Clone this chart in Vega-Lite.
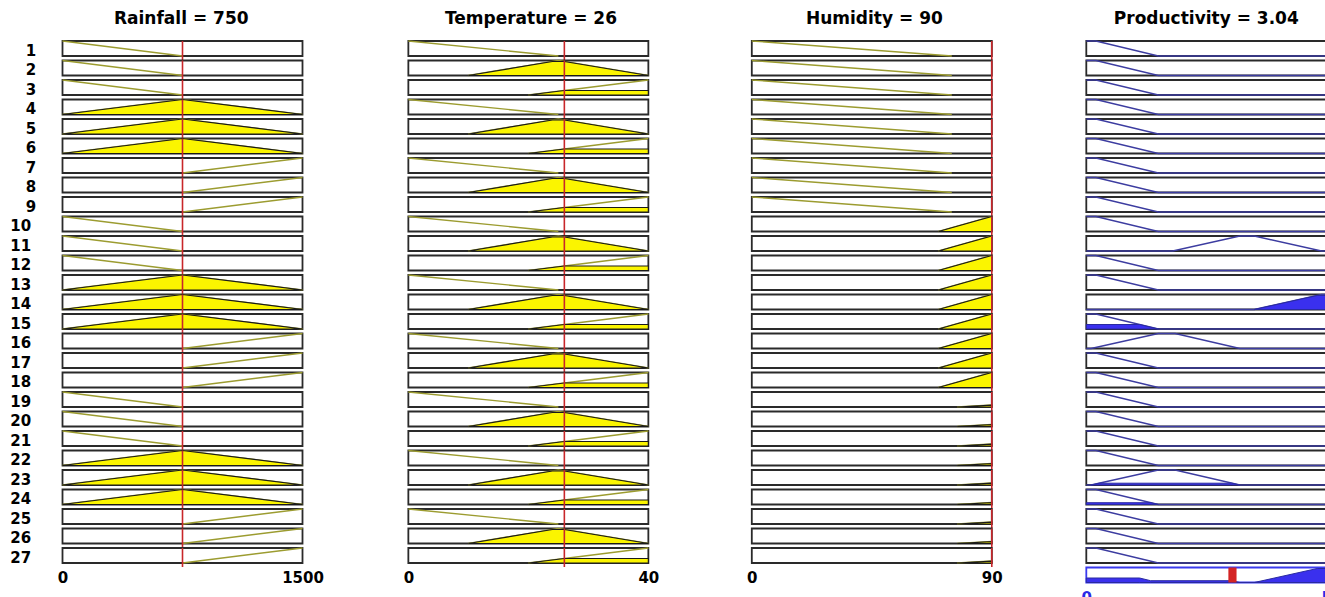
{
 "$schema": "https://vega.github.io/schema/vega-lite/v6.json",
 "background": "white",
 "padding": {"left": 9.5, "top": 10, "right": 0, "bottom": 0},
 "config": {
  "view": {"stroke": null},
  "font": "DejaVu Sans",
  "axis": {"domain": false, "ticks": false, "grid": false, "labelFlush": false, "labelFont": "DejaVu Sans", "labelFontWeight": "bold", "labelFontSize": 15, "labelColor": "black", "labelPadding": 3, "format": "d"},
  "title": {"font": "DejaVu Sans", "fontWeight": "bold", "fontSize": 17, "color": "black", "anchor": "middle", "offset": 10}
 },
 "datasets": {
  "rain": [
   {"rule":1,"x":0,"mu":1,"kind":"l"},{"rule":1,"x":750,"mu":0,"kind":"l"},
   {"rule":2,"x":0,"mu":1,"kind":"l"},{"rule":2,"x":750,"mu":0,"kind":"l"},
   {"rule":3,"x":0,"mu":1,"kind":"l"},{"rule":3,"x":750,"mu":0,"kind":"l"},
   {"rule":4,"x":0,"mu":0,"kind":"l"},{"rule":4,"x":750,"mu":1,"kind":"l"},{"rule":4,"x":1500,"mu":0,"kind":"l"},{"rule":4,"x":0,"mu":0,"kind":"f"},{"rule":4,"x":750,"mu":1,"kind":"f"},{"rule":4,"x":1500,"mu":0,"kind":"f"},
   {"rule":5,"x":0,"mu":0,"kind":"l"},{"rule":5,"x":750,"mu":1,"kind":"l"},{"rule":5,"x":1500,"mu":0,"kind":"l"},{"rule":5,"x":0,"mu":0,"kind":"f"},{"rule":5,"x":750,"mu":1,"kind":"f"},{"rule":5,"x":1500,"mu":0,"kind":"f"},
   {"rule":6,"x":0,"mu":0,"kind":"l"},{"rule":6,"x":750,"mu":1,"kind":"l"},{"rule":6,"x":1500,"mu":0,"kind":"l"},{"rule":6,"x":0,"mu":0,"kind":"f"},{"rule":6,"x":750,"mu":1,"kind":"f"},{"rule":6,"x":1500,"mu":0,"kind":"f"},
   {"rule":7,"x":750,"mu":0,"kind":"l"},{"rule":7,"x":1500,"mu":1,"kind":"l"},
   {"rule":8,"x":750,"mu":0,"kind":"l"},{"rule":8,"x":1500,"mu":1,"kind":"l"},
   {"rule":9,"x":750,"mu":0,"kind":"l"},{"rule":9,"x":1500,"mu":1,"kind":"l"},
   {"rule":10,"x":0,"mu":1,"kind":"l"},{"rule":10,"x":750,"mu":0,"kind":"l"},
   {"rule":11,"x":0,"mu":1,"kind":"l"},{"rule":11,"x":750,"mu":0,"kind":"l"},
   {"rule":12,"x":0,"mu":1,"kind":"l"},{"rule":12,"x":750,"mu":0,"kind":"l"},
   {"rule":13,"x":0,"mu":0,"kind":"l"},{"rule":13,"x":750,"mu":1,"kind":"l"},{"rule":13,"x":1500,"mu":0,"kind":"l"},{"rule":13,"x":0,"mu":0,"kind":"f"},{"rule":13,"x":750,"mu":1,"kind":"f"},{"rule":13,"x":1500,"mu":0,"kind":"f"},
   {"rule":14,"x":0,"mu":0,"kind":"l"},{"rule":14,"x":750,"mu":1,"kind":"l"},{"rule":14,"x":1500,"mu":0,"kind":"l"},{"rule":14,"x":0,"mu":0,"kind":"f"},{"rule":14,"x":750,"mu":1,"kind":"f"},{"rule":14,"x":1500,"mu":0,"kind":"f"},
   {"rule":15,"x":0,"mu":0,"kind":"l"},{"rule":15,"x":750,"mu":1,"kind":"l"},{"rule":15,"x":1500,"mu":0,"kind":"l"},{"rule":15,"x":0,"mu":0,"kind":"f"},{"rule":15,"x":750,"mu":1,"kind":"f"},{"rule":15,"x":1500,"mu":0,"kind":"f"},
   {"rule":16,"x":750,"mu":0,"kind":"l"},{"rule":16,"x":1500,"mu":1,"kind":"l"},
   {"rule":17,"x":750,"mu":0,"kind":"l"},{"rule":17,"x":1500,"mu":1,"kind":"l"},
   {"rule":18,"x":750,"mu":0,"kind":"l"},{"rule":18,"x":1500,"mu":1,"kind":"l"},
   {"rule":19,"x":0,"mu":1,"kind":"l"},{"rule":19,"x":750,"mu":0,"kind":"l"},
   {"rule":20,"x":0,"mu":1,"kind":"l"},{"rule":20,"x":750,"mu":0,"kind":"l"},
   {"rule":21,"x":0,"mu":1,"kind":"l"},{"rule":21,"x":750,"mu":0,"kind":"l"},
   {"rule":22,"x":0,"mu":0,"kind":"l"},{"rule":22,"x":750,"mu":1,"kind":"l"},{"rule":22,"x":1500,"mu":0,"kind":"l"},{"rule":22,"x":0,"mu":0,"kind":"f"},{"rule":22,"x":750,"mu":1,"kind":"f"},{"rule":22,"x":1500,"mu":0,"kind":"f"},
   {"rule":23,"x":0,"mu":0,"kind":"l"},{"rule":23,"x":750,"mu":1,"kind":"l"},{"rule":23,"x":1500,"mu":0,"kind":"l"},{"rule":23,"x":0,"mu":0,"kind":"f"},{"rule":23,"x":750,"mu":1,"kind":"f"},{"rule":23,"x":1500,"mu":0,"kind":"f"},
   {"rule":24,"x":0,"mu":0,"kind":"l"},{"rule":24,"x":750,"mu":1,"kind":"l"},{"rule":24,"x":1500,"mu":0,"kind":"l"},{"rule":24,"x":0,"mu":0,"kind":"f"},{"rule":24,"x":750,"mu":1,"kind":"f"},{"rule":24,"x":1500,"mu":0,"kind":"f"},
   {"rule":25,"x":750,"mu":0,"kind":"l"},{"rule":25,"x":1500,"mu":1,"kind":"l"},
   {"rule":26,"x":750,"mu":0,"kind":"l"},{"rule":26,"x":1500,"mu":1,"kind":"l"},
   {"rule":27,"x":750,"mu":0,"kind":"l"},{"rule":27,"x":1500,"mu":1,"kind":"l"}
  ],
  "temp": [
   {"rule":1,"x":0,"mu":1,"kind":"l"},{"rule":1,"x":25,"mu":0,"kind":"l"},
   {"rule":2,"x":10,"mu":0,"kind":"l"},{"rule":2,"x":25,"mu":1,"kind":"l"},{"rule":2,"x":40,"mu":0,"kind":"l"},{"rule":2,"x":10,"mu":0,"kind":"f"},{"rule":2,"x":24,"mu":0.933,"kind":"f"},{"rule":2,"x":26,"mu":0.933,"kind":"f"},{"rule":2,"x":40,"mu":0,"kind":"f"},
   {"rule":3,"x":20,"mu":0,"kind":"l"},{"rule":3,"x":40,"mu":1,"kind":"l"},{"rule":3,"x":20,"mu":0,"kind":"f"},{"rule":3,"x":26,"mu":0.3,"kind":"f"},{"rule":3,"x":40,"mu":0.3,"kind":"f"},
   {"rule":4,"x":0,"mu":1,"kind":"l"},{"rule":4,"x":25,"mu":0,"kind":"l"},
   {"rule":5,"x":10,"mu":0,"kind":"l"},{"rule":5,"x":25,"mu":1,"kind":"l"},{"rule":5,"x":40,"mu":0,"kind":"l"},{"rule":5,"x":10,"mu":0,"kind":"f"},{"rule":5,"x":24,"mu":0.933,"kind":"f"},{"rule":5,"x":26,"mu":0.933,"kind":"f"},{"rule":5,"x":40,"mu":0,"kind":"f"},
   {"rule":6,"x":20,"mu":0,"kind":"l"},{"rule":6,"x":40,"mu":1,"kind":"l"},{"rule":6,"x":20,"mu":0,"kind":"f"},{"rule":6,"x":26,"mu":0.3,"kind":"f"},{"rule":6,"x":40,"mu":0.3,"kind":"f"},
   {"rule":7,"x":0,"mu":1,"kind":"l"},{"rule":7,"x":25,"mu":0,"kind":"l"},
   {"rule":8,"x":10,"mu":0,"kind":"l"},{"rule":8,"x":25,"mu":1,"kind":"l"},{"rule":8,"x":40,"mu":0,"kind":"l"},{"rule":8,"x":10,"mu":0,"kind":"f"},{"rule":8,"x":24,"mu":0.933,"kind":"f"},{"rule":8,"x":26,"mu":0.933,"kind":"f"},{"rule":8,"x":40,"mu":0,"kind":"f"},
   {"rule":9,"x":20,"mu":0,"kind":"l"},{"rule":9,"x":40,"mu":1,"kind":"l"},{"rule":9,"x":20,"mu":0,"kind":"f"},{"rule":9,"x":26,"mu":0.3,"kind":"f"},{"rule":9,"x":40,"mu":0.3,"kind":"f"},
   {"rule":10,"x":0,"mu":1,"kind":"l"},{"rule":10,"x":25,"mu":0,"kind":"l"},
   {"rule":11,"x":10,"mu":0,"kind":"l"},{"rule":11,"x":25,"mu":1,"kind":"l"},{"rule":11,"x":40,"mu":0,"kind":"l"},{"rule":11,"x":10,"mu":0,"kind":"f"},{"rule":11,"x":24,"mu":0.933,"kind":"f"},{"rule":11,"x":26,"mu":0.933,"kind":"f"},{"rule":11,"x":40,"mu":0,"kind":"f"},
   {"rule":12,"x":20,"mu":0,"kind":"l"},{"rule":12,"x":40,"mu":1,"kind":"l"},{"rule":12,"x":20,"mu":0,"kind":"f"},{"rule":12,"x":26,"mu":0.3,"kind":"f"},{"rule":12,"x":40,"mu":0.3,"kind":"f"},
   {"rule":13,"x":0,"mu":1,"kind":"l"},{"rule":13,"x":25,"mu":0,"kind":"l"},
   {"rule":14,"x":10,"mu":0,"kind":"l"},{"rule":14,"x":25,"mu":1,"kind":"l"},{"rule":14,"x":40,"mu":0,"kind":"l"},{"rule":14,"x":10,"mu":0,"kind":"f"},{"rule":14,"x":24,"mu":0.933,"kind":"f"},{"rule":14,"x":26,"mu":0.933,"kind":"f"},{"rule":14,"x":40,"mu":0,"kind":"f"},
   {"rule":15,"x":20,"mu":0,"kind":"l"},{"rule":15,"x":40,"mu":1,"kind":"l"},{"rule":15,"x":20,"mu":0,"kind":"f"},{"rule":15,"x":26,"mu":0.3,"kind":"f"},{"rule":15,"x":40,"mu":0.3,"kind":"f"},
   {"rule":16,"x":0,"mu":1,"kind":"l"},{"rule":16,"x":25,"mu":0,"kind":"l"},
   {"rule":17,"x":10,"mu":0,"kind":"l"},{"rule":17,"x":25,"mu":1,"kind":"l"},{"rule":17,"x":40,"mu":0,"kind":"l"},{"rule":17,"x":10,"mu":0,"kind":"f"},{"rule":17,"x":24,"mu":0.933,"kind":"f"},{"rule":17,"x":26,"mu":0.933,"kind":"f"},{"rule":17,"x":40,"mu":0,"kind":"f"},
   {"rule":18,"x":20,"mu":0,"kind":"l"},{"rule":18,"x":40,"mu":1,"kind":"l"},{"rule":18,"x":20,"mu":0,"kind":"f"},{"rule":18,"x":26,"mu":0.3,"kind":"f"},{"rule":18,"x":40,"mu":0.3,"kind":"f"},
   {"rule":19,"x":0,"mu":1,"kind":"l"},{"rule":19,"x":25,"mu":0,"kind":"l"},
   {"rule":20,"x":10,"mu":0,"kind":"l"},{"rule":20,"x":25,"mu":1,"kind":"l"},{"rule":20,"x":40,"mu":0,"kind":"l"},{"rule":20,"x":10,"mu":0,"kind":"f"},{"rule":20,"x":24,"mu":0.933,"kind":"f"},{"rule":20,"x":26,"mu":0.933,"kind":"f"},{"rule":20,"x":40,"mu":0,"kind":"f"},
   {"rule":21,"x":20,"mu":0,"kind":"l"},{"rule":21,"x":40,"mu":1,"kind":"l"},{"rule":21,"x":20,"mu":0,"kind":"f"},{"rule":21,"x":26,"mu":0.3,"kind":"f"},{"rule":21,"x":40,"mu":0.3,"kind":"f"},
   {"rule":22,"x":0,"mu":1,"kind":"l"},{"rule":22,"x":25,"mu":0,"kind":"l"},
   {"rule":23,"x":10,"mu":0,"kind":"l"},{"rule":23,"x":25,"mu":1,"kind":"l"},{"rule":23,"x":40,"mu":0,"kind":"l"},{"rule":23,"x":10,"mu":0,"kind":"f"},{"rule":23,"x":24,"mu":0.933,"kind":"f"},{"rule":23,"x":26,"mu":0.933,"kind":"f"},{"rule":23,"x":40,"mu":0,"kind":"f"},
   {"rule":24,"x":20,"mu":0,"kind":"l"},{"rule":24,"x":40,"mu":1,"kind":"l"},{"rule":24,"x":20,"mu":0,"kind":"f"},{"rule":24,"x":26,"mu":0.3,"kind":"f"},{"rule":24,"x":40,"mu":0.3,"kind":"f"},
   {"rule":25,"x":0,"mu":1,"kind":"l"},{"rule":25,"x":25,"mu":0,"kind":"l"},
   {"rule":26,"x":10,"mu":0,"kind":"l"},{"rule":26,"x":25,"mu":1,"kind":"l"},{"rule":26,"x":40,"mu":0,"kind":"l"},{"rule":26,"x":10,"mu":0,"kind":"f"},{"rule":26,"x":24,"mu":0.933,"kind":"f"},{"rule":26,"x":26,"mu":0.933,"kind":"f"},{"rule":26,"x":40,"mu":0,"kind":"f"},
   {"rule":27,"x":20,"mu":0,"kind":"l"},{"rule":27,"x":40,"mu":1,"kind":"l"},{"rule":27,"x":20,"mu":0,"kind":"f"},{"rule":27,"x":26,"mu":0.3,"kind":"f"},{"rule":27,"x":40,"mu":0.3,"kind":"f"}
  ],
  "hum": [
   {"rule":1,"x":0,"mu":1,"kind":"l"},{"rule":1,"x":75,"mu":0,"kind":"l"},
   {"rule":2,"x":0,"mu":1,"kind":"l"},{"rule":2,"x":75,"mu":0,"kind":"l"},
   {"rule":3,"x":0,"mu":1,"kind":"l"},{"rule":3,"x":75,"mu":0,"kind":"l"},
   {"rule":4,"x":0,"mu":1,"kind":"l"},{"rule":4,"x":75,"mu":0,"kind":"l"},
   {"rule":5,"x":0,"mu":1,"kind":"l"},{"rule":5,"x":75,"mu":0,"kind":"l"},
   {"rule":6,"x":0,"mu":1,"kind":"l"},{"rule":6,"x":75,"mu":0,"kind":"l"},
   {"rule":7,"x":0,"mu":1,"kind":"l"},{"rule":7,"x":75,"mu":0,"kind":"l"},
   {"rule":8,"x":0,"mu":1,"kind":"l"},{"rule":8,"x":75,"mu":0,"kind":"l"},
   {"rule":9,"x":0,"mu":1,"kind":"l"},{"rule":9,"x":75,"mu":0,"kind":"l"},
   {"rule":10,"x":70,"mu":0,"kind":"l"},{"rule":10,"x":90,"mu":1,"kind":"l"},{"rule":10,"x":70,"mu":0,"kind":"f"},{"rule":10,"x":90,"mu":1,"kind":"f"},
   {"rule":11,"x":70,"mu":0,"kind":"l"},{"rule":11,"x":90,"mu":1,"kind":"l"},{"rule":11,"x":70,"mu":0,"kind":"f"},{"rule":11,"x":90,"mu":1,"kind":"f"},
   {"rule":12,"x":70,"mu":0,"kind":"l"},{"rule":12,"x":90,"mu":1,"kind":"l"},{"rule":12,"x":70,"mu":0,"kind":"f"},{"rule":12,"x":90,"mu":1,"kind":"f"},
   {"rule":13,"x":70,"mu":0,"kind":"l"},{"rule":13,"x":90,"mu":1,"kind":"l"},{"rule":13,"x":70,"mu":0,"kind":"f"},{"rule":13,"x":90,"mu":1,"kind":"f"},
   {"rule":14,"x":70,"mu":0,"kind":"l"},{"rule":14,"x":90,"mu":1,"kind":"l"},{"rule":14,"x":70,"mu":0,"kind":"f"},{"rule":14,"x":90,"mu":1,"kind":"f"},
   {"rule":15,"x":70,"mu":0,"kind":"l"},{"rule":15,"x":90,"mu":1,"kind":"l"},{"rule":15,"x":70,"mu":0,"kind":"f"},{"rule":15,"x":90,"mu":1,"kind":"f"},
   {"rule":16,"x":70,"mu":0,"kind":"l"},{"rule":16,"x":90,"mu":1,"kind":"l"},{"rule":16,"x":70,"mu":0,"kind":"f"},{"rule":16,"x":90,"mu":1,"kind":"f"},
   {"rule":17,"x":70,"mu":0,"kind":"l"},{"rule":17,"x":90,"mu":1,"kind":"l"},{"rule":17,"x":70,"mu":0,"kind":"f"},{"rule":17,"x":90,"mu":1,"kind":"f"},
   {"rule":18,"x":70,"mu":0,"kind":"l"},{"rule":18,"x":90,"mu":1,"kind":"l"},{"rule":18,"x":70,"mu":0,"kind":"f"},{"rule":18,"x":90,"mu":1,"kind":"f"},
   {"rule":19,"x":77,"mu":0,"kind":"l"},{"rule":19,"x":90,"mu":0.13,"kind":"l"},{"rule":19,"x":77,"mu":0,"kind":"f"},{"rule":19,"x":90,"mu":0.13,"kind":"f"},
   {"rule":20,"x":77,"mu":0,"kind":"l"},{"rule":20,"x":90,"mu":0.13,"kind":"l"},{"rule":20,"x":77,"mu":0,"kind":"f"},{"rule":20,"x":90,"mu":0.13,"kind":"f"},
   {"rule":21,"x":77,"mu":0,"kind":"l"},{"rule":21,"x":90,"mu":0.13,"kind":"l"},{"rule":21,"x":77,"mu":0,"kind":"f"},{"rule":21,"x":90,"mu":0.13,"kind":"f"},
   {"rule":22,"x":77,"mu":0,"kind":"l"},{"rule":22,"x":90,"mu":0.13,"kind":"l"},{"rule":22,"x":77,"mu":0,"kind":"f"},{"rule":22,"x":90,"mu":0.13,"kind":"f"},
   {"rule":23,"x":77,"mu":0,"kind":"l"},{"rule":23,"x":90,"mu":0.13,"kind":"l"},{"rule":23,"x":77,"mu":0,"kind":"f"},{"rule":23,"x":90,"mu":0.13,"kind":"f"},
   {"rule":24,"x":77,"mu":0,"kind":"l"},{"rule":24,"x":90,"mu":0.13,"kind":"l"},{"rule":24,"x":77,"mu":0,"kind":"f"},{"rule":24,"x":90,"mu":0.13,"kind":"f"},
   {"rule":25,"x":77,"mu":0,"kind":"l"},{"rule":25,"x":90,"mu":0.13,"kind":"l"},{"rule":25,"x":77,"mu":0,"kind":"f"},{"rule":25,"x":90,"mu":0.13,"kind":"f"},
   {"rule":26,"x":77,"mu":0,"kind":"l"},{"rule":26,"x":90,"mu":0.13,"kind":"l"},{"rule":26,"x":77,"mu":0,"kind":"f"},{"rule":26,"x":90,"mu":0.13,"kind":"f"},
   {"rule":27,"x":77,"mu":0,"kind":"l"},{"rule":27,"x":90,"mu":0.13,"kind":"l"},{"rule":27,"x":77,"mu":0,"kind":"f"},{"rule":27,"x":90,"mu":0.13,"kind":"f"}
  ],
  "prod": [
   {"rule":1,"x":0,"mu":1,"kind":"l"},{"rule":1,"x":0.2,"mu":1,"kind":"l"},{"rule":1,"x":1.5,"mu":0,"kind":"l"},{"rule":1,"x":5,"mu":0,"kind":"l"},
   {"rule":2,"x":0,"mu":1,"kind":"l"},{"rule":2,"x":0.2,"mu":1,"kind":"l"},{"rule":2,"x":1.5,"mu":0,"kind":"l"},{"rule":2,"x":5,"mu":0,"kind":"l"},
   {"rule":3,"x":0,"mu":1,"kind":"l"},{"rule":3,"x":0.2,"mu":1,"kind":"l"},{"rule":3,"x":1.5,"mu":0,"kind":"l"},{"rule":3,"x":5,"mu":0,"kind":"l"},
   {"rule":4,"x":0,"mu":1,"kind":"l"},{"rule":4,"x":0.2,"mu":1,"kind":"l"},{"rule":4,"x":1.5,"mu":0,"kind":"l"},{"rule":4,"x":5,"mu":0,"kind":"l"},
   {"rule":5,"x":0,"mu":1,"kind":"l"},{"rule":5,"x":0.2,"mu":1,"kind":"l"},{"rule":5,"x":1.5,"mu":0,"kind":"l"},{"rule":5,"x":5,"mu":0,"kind":"l"},
   {"rule":6,"x":0,"mu":1,"kind":"l"},{"rule":6,"x":0.2,"mu":1,"kind":"l"},{"rule":6,"x":1.5,"mu":0,"kind":"l"},{"rule":6,"x":5,"mu":0,"kind":"l"},
   {"rule":7,"x":0,"mu":1,"kind":"l"},{"rule":7,"x":0.2,"mu":1,"kind":"l"},{"rule":7,"x":1.5,"mu":0,"kind":"l"},{"rule":7,"x":5,"mu":0,"kind":"l"},
   {"rule":8,"x":0,"mu":1,"kind":"l"},{"rule":8,"x":0.2,"mu":1,"kind":"l"},{"rule":8,"x":1.5,"mu":0,"kind":"l"},{"rule":8,"x":5,"mu":0,"kind":"l"},
   {"rule":9,"x":0,"mu":1,"kind":"l"},{"rule":9,"x":0.2,"mu":1,"kind":"l"},{"rule":9,"x":1.5,"mu":0,"kind":"l"},{"rule":9,"x":5,"mu":0,"kind":"l"},
   {"rule":10,"x":0,"mu":1,"kind":"l"},{"rule":10,"x":0.2,"mu":1,"kind":"l"},{"rule":10,"x":1.5,"mu":0,"kind":"l"},{"rule":10,"x":5,"mu":0,"kind":"l"},
   {"rule":11,"x":0,"mu":0,"kind":"l"},{"rule":11,"x":1.8,"mu":0,"kind":"l"},{"rule":11,"x":3.2,"mu":1,"kind":"l"},{"rule":11,"x":3.5,"mu":1,"kind":"l"},{"rule":11,"x":4.9,"mu":0,"kind":"l"},{"rule":11,"x":5,"mu":0,"kind":"l"},
   {"rule":12,"x":0,"mu":1,"kind":"l"},{"rule":12,"x":0.2,"mu":1,"kind":"l"},{"rule":12,"x":1.5,"mu":0,"kind":"l"},{"rule":12,"x":5,"mu":0,"kind":"l"},
   {"rule":13,"x":0,"mu":1,"kind":"l"},{"rule":13,"x":0.2,"mu":1,"kind":"l"},{"rule":13,"x":1.5,"mu":0,"kind":"l"},{"rule":13,"x":5,"mu":0,"kind":"l"},
   {"rule":14,"x":0,"mu":0,"kind":"l"},{"rule":14,"x":3.5,"mu":0,"kind":"l"},{"rule":14,"x":4.9,"mu":1,"kind":"l"},{"rule":14,"x":5,"mu":1,"kind":"l"},{"rule":14,"x":3.5,"mu":0,"kind":"f"},{"rule":14,"x":4.81,"mu":0.933,"kind":"f"},{"rule":14,"x":5,"mu":0.933,"kind":"f"},
   {"rule":15,"x":0,"mu":1,"kind":"l"},{"rule":15,"x":0.2,"mu":1,"kind":"l"},{"rule":15,"x":1.5,"mu":0,"kind":"l"},{"rule":15,"x":5,"mu":0,"kind":"l"},{"rule":15,"x":0,"mu":0.3,"kind":"f"},{"rule":15,"x":1.11,"mu":0.3,"kind":"f"},{"rule":15,"x":1.5,"mu":0,"kind":"f"},
   {"rule":16,"x":0,"mu":0,"kind":"l"},{"rule":16,"x":0.1,"mu":0,"kind":"l"},{"rule":16,"x":1.5,"mu":1,"kind":"l"},{"rule":16,"x":1.85,"mu":1,"kind":"l"},{"rule":16,"x":3.2,"mu":0,"kind":"l"},{"rule":16,"x":5,"mu":0,"kind":"l"},
   {"rule":17,"x":0,"mu":1,"kind":"l"},{"rule":17,"x":0.2,"mu":1,"kind":"l"},{"rule":17,"x":1.5,"mu":0,"kind":"l"},{"rule":17,"x":5,"mu":0,"kind":"l"},
   {"rule":18,"x":0,"mu":1,"kind":"l"},{"rule":18,"x":0.2,"mu":1,"kind":"l"},{"rule":18,"x":1.5,"mu":0,"kind":"l"},{"rule":18,"x":5,"mu":0,"kind":"l"},
   {"rule":19,"x":0,"mu":1,"kind":"l"},{"rule":19,"x":0.2,"mu":1,"kind":"l"},{"rule":19,"x":1.5,"mu":0,"kind":"l"},{"rule":19,"x":5,"mu":0,"kind":"l"},
   {"rule":20,"x":0,"mu":1,"kind":"l"},{"rule":20,"x":0.2,"mu":1,"kind":"l"},{"rule":20,"x":1.5,"mu":0,"kind":"l"},{"rule":20,"x":5,"mu":0,"kind":"l"},
   {"rule":21,"x":0,"mu":1,"kind":"l"},{"rule":21,"x":0.2,"mu":1,"kind":"l"},{"rule":21,"x":1.5,"mu":0,"kind":"l"},{"rule":21,"x":5,"mu":0,"kind":"l"},
   {"rule":22,"x":0,"mu":1,"kind":"l"},{"rule":22,"x":0.2,"mu":1,"kind":"l"},{"rule":22,"x":1.5,"mu":0,"kind":"l"},{"rule":22,"x":5,"mu":0,"kind":"l"},
   {"rule":23,"x":0,"mu":0,"kind":"l"},{"rule":23,"x":0.1,"mu":0,"kind":"l"},{"rule":23,"x":1.5,"mu":1,"kind":"l"},{"rule":23,"x":1.85,"mu":1,"kind":"l"},{"rule":23,"x":3.2,"mu":0,"kind":"l"},{"rule":23,"x":5,"mu":0,"kind":"l"},{"rule":23,"x":0.1,"mu":0,"kind":"f"},{"rule":23,"x":0.27,"mu":0.12,"kind":"f"},{"rule":23,"x":3.03,"mu":0.12,"kind":"f"},{"rule":23,"x":3.2,"mu":0,"kind":"f"},
   {"rule":24,"x":0,"mu":1,"kind":"l"},{"rule":24,"x":0.2,"mu":1,"kind":"l"},{"rule":24,"x":1.5,"mu":0,"kind":"l"},{"rule":24,"x":5,"mu":0,"kind":"l"},{"rule":24,"x":0,"mu":0.12,"kind":"f"},{"rule":24,"x":1.34,"mu":0.12,"kind":"f"},{"rule":24,"x":1.5,"mu":0,"kind":"f"},
   {"rule":25,"x":0,"mu":1,"kind":"l"},{"rule":25,"x":0.2,"mu":1,"kind":"l"},{"rule":25,"x":1.5,"mu":0,"kind":"l"},{"rule":25,"x":5,"mu":0,"kind":"l"},
   {"rule":26,"x":0,"mu":1,"kind":"l"},{"rule":26,"x":0.2,"mu":1,"kind":"l"},{"rule":26,"x":1.5,"mu":0,"kind":"l"},{"rule":26,"x":5,"mu":0,"kind":"l"},
   {"rule":27,"x":0,"mu":1,"kind":"l"},{"rule":27,"x":0.2,"mu":1,"kind":"l"},{"rule":27,"x":1.5,"mu":0,"kind":"l"},{"rule":27,"x":5,"mu":0,"kind":"l"},
   {"rule":28,"x":0,"mu":0.3,"kind":"f"},{"rule":28,"x":1.11,"mu":0.3,"kind":"f"},{"rule":28,"x":1.34,"mu":0.12,"kind":"f"},{"rule":28,"x":3.03,"mu":0.12,"kind":"f"},{"rule":28,"x":3.2,"mu":0,"kind":"f"},{"rule":28,"x":3.5,"mu":0,"kind":"f"},{"rule":28,"x":4.81,"mu":0.933,"kind":"f"},{"rule":28,"x":5,"mu":0.933,"kind":"f"}
  ]
 },
 "spacing": 77.8,
 "hconcat": [
  {
   "spacing": 86.3,
   "hconcat": [
    {
     "spacing": 78.85,
     "hconcat": [
      {
       "data": {"name": "rain"},
       "title": {"text": "Rainfall = 750", "dx": 14.5},
       "bounds": "flush",
       "facet": {"row": {"field": "rule", "type": "ordinal", "header": {"title": null, "labelAngle": 0, "labelAlign": "center", "labelFont": "DejaVu Sans", "labelFontWeight": "bold", "labelFontSize": 15, "labelColor": "black", "labelPadding": 21}}},
       "spacing": {"row": 0.5},
       "spec": {
        "width": 240, "height": 19,
        "layer": [
         {"transform": [{"aggregate": [{"op": "count", "as": "n"}], "groupby": ["rule"]}],
          "mark": {"type": "rect", "fill": "white", "stroke": "#2a2a2a", "strokeWidth": 1.8},
          "encoding": {"x": {"datum": 0, "type": "quantitative", "scale": {"domain": [0, 1500], "nice": false, "zero": false}, "axis": {"values": [0, 1500], "title": null}}, "x2": {"datum": 1500}, "y": {"datum": 0, "type": "quantitative", "scale": {"domain": [-0.2667, 1], "nice": false, "zero": false}, "axis": null}, "y2": {"datum": 1}}},
         {"transform": [{"filter": "datum.kind == 'l'"}],
          "mark": {"type": "line", "color": "#9c9c30", "strokeWidth": 1.4},
          "encoding": {"x": {"field": "x", "type": "quantitative", "axis": {"values": [0, 1500], "title": null}}, "y": {"field": "mu", "type": "quantitative", "axis": null}}},
         {"transform": [{"filter": "datum.kind == 'f'"}],
          "mark": {"type": "area", "fill": "#fbf500", "fillOpacity": 1, "stroke": "#1a1a1a", "strokeWidth": 1.2},
          "encoding": {"x": {"field": "x", "type": "quantitative", "axis": {"values": [0, 1500], "title": null}}, "y": {"field": "mu", "type": "quantitative", "axis": null}, "y2": {"datum": 0}}},
         {"transform": [{"aggregate": [{"op": "count", "as": "n"}], "groupby": ["rule"]}],
          "mark": {"type": "rule", "color": "#c8262a", "strokeWidth": 1.6},
          "encoding": {"x": {"datum": 750, "type": "quantitative", "axis": {"values": [0, 1500], "title": null}}}}
        ]
       }
      },
      {
       "data": {"name": "temp"},
       "title": "Temperature = 26",
       "bounds": "flush",
       "facet": {"row": {"field": "rule", "type": "ordinal", "header": {"title": null, "labels": false}}},
       "spacing": {"row": 0.5},
       "spec": {
        "width": 240, "height": 19,
        "layer": [
         {"transform": [{"aggregate": [{"op": "count", "as": "n"}], "groupby": ["rule"]}],
          "mark": {"type": "rect", "fill": "white", "stroke": "#2a2a2a", "strokeWidth": 1.8},
          "encoding": {"x": {"datum": 0, "type": "quantitative", "scale": {"domain": [0, 40], "nice": false, "zero": false}, "axis": {"values": [0, 40], "title": null}}, "x2": {"datum": 40}, "y": {"datum": 0, "type": "quantitative", "scale": {"domain": [-0.2667, 1], "nice": false, "zero": false}, "axis": null}, "y2": {"datum": 1}}},
         {"transform": [{"filter": "datum.kind == 'l'"}],
          "mark": {"type": "line", "color": "#9c9c30", "strokeWidth": 1.4},
          "encoding": {"x": {"field": "x", "type": "quantitative", "axis": {"values": [0, 40], "title": null}}, "y": {"field": "mu", "type": "quantitative", "axis": null}}},
         {"transform": [{"filter": "datum.kind == 'f'"}],
          "mark": {"type": "area", "fill": "#fbf500", "fillOpacity": 1, "stroke": "#1a1a1a", "strokeWidth": 1.2},
          "encoding": {"x": {"field": "x", "type": "quantitative", "axis": {"values": [0, 40], "title": null}}, "y": {"field": "mu", "type": "quantitative", "axis": null}, "y2": {"datum": 0}}},
         {"transform": [{"aggregate": [{"op": "count", "as": "n"}], "groupby": ["rule"]}],
          "mark": {"type": "rule", "color": "#c8262a", "strokeWidth": 1.6},
          "encoding": {"x": {"datum": 26, "type": "quantitative", "axis": {"values": [0, 40], "title": null}}}}
        ]
       }
      }
     ]
    },
    {
     "data": {"name": "hum"},
     "title": "Humidity = 90",
     "bounds": "flush",
     "facet": {"row": {"field": "rule", "type": "ordinal", "header": {"title": null, "labels": false}}},
     "spacing": {"row": 0.5},
     "spec": {
      "width": 240, "height": 19,
      "layer": [
       {"transform": [{"aggregate": [{"op": "count", "as": "n"}], "groupby": ["rule"]}],
        "mark": {"type": "rect", "fill": "white", "stroke": "#2a2a2a", "strokeWidth": 1.8},
        "encoding": {"x": {"datum": 0, "type": "quantitative", "scale": {"domain": [0, 90], "nice": false, "zero": false}, "axis": {"values": [0, 90], "title": null}}, "x2": {"datum": 90}, "y": {"datum": 0, "type": "quantitative", "scale": {"domain": [-0.2667, 1], "nice": false, "zero": false}, "axis": null}, "y2": {"datum": 1}}},
       {"transform": [{"filter": "datum.kind == 'l'"}],
        "mark": {"type": "line", "color": "#9c9c30", "strokeWidth": 1.4},
        "encoding": {"x": {"field": "x", "type": "quantitative", "axis": {"values": [0, 90], "title": null}}, "y": {"field": "mu", "type": "quantitative", "axis": null}}},
       {"transform": [{"filter": "datum.kind == 'f'"}],
        "mark": {"type": "area", "fill": "#fbf500", "fillOpacity": 1, "stroke": "#1a1a1a", "strokeWidth": 1.2},
        "encoding": {"x": {"field": "x", "type": "quantitative", "axis": {"values": [0, 90], "title": null}}, "y": {"field": "mu", "type": "quantitative", "axis": null}, "y2": {"datum": 0}}},
       {"transform": [{"aggregate": [{"op": "count", "as": "n"}], "groupby": ["rule"]}],
        "mark": {"type": "rule", "color": "#c8262a", "strokeWidth": 1.6},
        "encoding": {"x": {"datum": 90, "type": "quantitative", "axis": {"values": [0, 90], "title": null}}}}
      ]
     }
    }
   ]
  },
  {
   "data": {"name": "prod"},
   "title": "Productivity = 3.04",
   "bounds": "flush",
   "facet": {"row": {"field": "rule", "type": "ordinal", "header": {"title": null, "labels": false}}},
   "spacing": {"row": 0.5},
   "spec": {
    "width": 240, "height": 19,
    "layer": [
     {"transform": [{"aggregate": [{"op": "count", "as": "n"}], "groupby": ["rule"]}],
      "mark": {"type": "rect", "fill": "white", "strokeWidth": 1.8},
      "encoding": {"x": {"datum": 0, "type": "quantitative", "scale": {"domain": [0, 5], "nice": false, "zero": false}, "axis": {"values": [0, 5], "title": null, "labelColor": "#2a2ae6"}}, "x2": {"datum": 5}, "y": {"datum": 0, "type": "quantitative", "scale": {"domain": [-0.2667, 1], "nice": false, "zero": false}, "axis": null}, "y2": {"datum": 1},
       "stroke": {"condition": {"test": "datum.rule == 28", "value": "#3a3aee"}, "value": "#2a2a2a"}}},
     {"transform": [{"filter": "datum.kind == 'l'"}],
      "mark": {"type": "line", "color": "#3c3ca0", "strokeWidth": 1.4},
      "encoding": {"x": {"field": "x", "type": "quantitative", "axis": {"values": [0, 5], "title": null, "labelColor": "#2a2ae6"}}, "y": {"field": "mu", "type": "quantitative", "axis": null}}},
     {"transform": [{"filter": "datum.kind == 'f'"}],
      "mark": {"type": "area", "fill": "#3a30ee", "fillOpacity": 1, "stroke": "#2a2aa0", "strokeWidth": 1},
      "encoding": {"x": {"field": "x", "type": "quantitative", "axis": {"values": [0, 5], "title": null, "labelColor": "#2a2ae6"}}, "y": {"field": "mu", "type": "quantitative", "axis": null}, "y2": {"datum": 0}}},
     {"transform": [{"filter": "datum.rule == 28"}, {"aggregate": [{"op": "count", "as": "n"}], "groupby": ["rule"]}],
      "mark": {"type": "rect", "fill": "#d42424"},
      "encoding": {"x": {"datum": 2.96, "type": "quantitative", "axis": {"values": [0, 5], "title": null, "labelColor": "#2a2ae6"}}, "x2": {"datum": 3.13}, "y": {"datum": 0, "type": "quantitative", "axis": null}, "y2": {"datum": 1}}}
    ]
   }
  }
 ]
}
